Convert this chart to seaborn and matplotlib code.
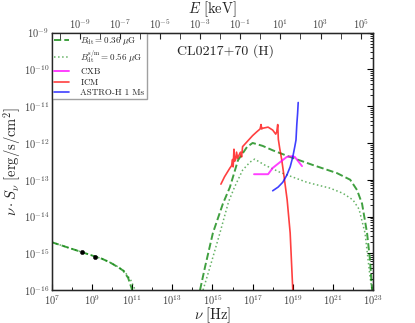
import numpy as np
import pandas as pd
import matplotlib
matplotlib.use("Agg")
import matplotlib.pyplot as plt
import seaborn as sns
from matplotlib.ticker import LogLocator, NullFormatter, FixedLocator
from matplotlib.lines import Line2D

sns.set_style("white")
plt.rcParams['font.family'] = ['cmr10', 'DejaVu Serif']
plt.rcParams['mathtext.fontset'] = 'cm'
plt.rcParams['axes.formatter.use_mathtext'] = True

# ---- data (log10 values) ----
# radio synchrotron, B_dt = 0.36 uG (dashed)
radio_dash_lognu = [7.0, 8.0, 8.5, 9.0, 9.5, 9.9, 10.3, 10.55, 10.8, 11.0]
radio_dash_logS = [-14.70, -14.88, -14.97, -15.06, -15.15, -15.25, -15.38, -15.47, -15.67, -16.0]
# radio synchrotron, B_dt^{s/m} = 0.56 uG (dotted)
radio_dot_lognu = [7.0, 8.0, 8.5, 9.0, 9.5, 9.9, 10.3, 10.6, 10.93, 11.15]
radio_dot_logS = [-14.70, -14.88, -14.97, -15.06, -15.15, -15.25, -15.37, -15.48, -15.73, -16.0]
# radio data points
pts_lognu = [8.5, 9.14]
pts_logS = [-14.96, -15.10]
# inverse-Compton, dashed
ic_dash_lognu = [14.38, 14.63, 15.02, 15.52, 15.87, 16.27, 16.72, 17.0, 17.5, 18.0, 18.86,
                 20.0, 21.2, 21.86, 22.2, 22.45, 22.7, 22.85, 22.95]
ic_dash_logS = [-16.0, -15.37, -14.45, -13.65, -13.2, -12.47, -12.11, -12.0, -12.08, -12.2, -12.38,
                -12.6, -12.82, -13.0, -13.28, -13.65, -14.45, -15.2, -16.0]
# inverse-Compton, dotted
ic_dot_lognu = [14.53, 14.88, 15.37, 15.8, 16.1, 16.5, 16.87, 17.1, 17.6, 18.37, 19.7,
                20.86, 21.5, 22.0, 22.3, 22.6, 22.85, 22.95]
ic_dot_logS = [-16.0, -15.37, -14.45, -13.6, -13.2, -12.74, -12.52, -12.44, -12.6, -12.8, -13.07,
               -13.23, -13.37, -13.55, -13.8, -14.45, -15.65, -16.0]
# ICM (red)
icm_lognu = [15.42, 15.6, 15.87, 15.95, 16.0, 16.03, 16.07, 16.1, 16.15, 16.2, 16.25, 16.35, 16.4,
             16.45, 16.5, 16.75, 17.0, 17.2, 17.37, 17.42, 17.45, 17.5, 17.77, 18.0, 18.15, 18.2,
             18.25, 18.28, 18.35, 18.45, 18.57, 18.72, 18.87, 19.0]
icm_logS = [-13.12, -12.92, -12.68, -12.62, -12.45, -12.65, -12.17, -12.5, -12.45, -12.25, -12.42,
            -12.3, -12.25, -12.38, -12.1, -11.95, -11.8, -11.7, -11.62, -11.5, -11.62, -11.6,
            -11.57, -11.65, -11.76, -11.7, -11.5, -11.9, -12.15, -12.46, -12.93, -13.55, -14.45, -16.0]
# CXB (magenta)
cxb_lognu = [17.07, 17.77, 18.0, 18.37, 18.7, 18.96, 19.1, 19.46]
cxb_logS = [-12.85, -12.85, -12.68, -12.52, -12.38, -12.36, -12.38, -12.63]
# ASTRO-H 1 Ms sensitivity (blue)
ah_lognu = [18.0, 18.27, 18.5, 18.7, 18.87, 19.0, 19.1, 19.16, 19.2, 19.24, 19.27]
ah_logS = [-13.3, -13.2, -13.07, -12.88, -12.65, -12.38, -12.1, -11.92, -11.5, -11.2, -10.9]

labels = [r'$B_{\rm dt}=0.36\ \mu{\rm G}$', r'$B_{\rm dt}^{\rm s/m}=0.56\ \mu{\rm G}$',
          r'$\rm CXB$', r'$\rm ICM$', 'ASTRO-H 1 Ms']
title_text = 'CL0217+70 (H)'

H_KEV = 4.135667e-18  # keV s

def df(lx, ly):
    return pd.DataFrame({'nu': np.power(10.0, lx), 'S': np.power(10.0, ly)})

fig = plt.figure(figsize=(4.15, 3.23), dpi=100)
ax = fig.add_axes([0.125, 0.102, 0.774, 0.797])

green = (0.0, 0.5, 0.0)
kw = dict(x='nu', y='S', ax=ax, sort=False, estimator=None, legend=False)
sns.lineplot(data=df(radio_dash_lognu, radio_dash_logS), color=green, linestyle='--', lw=1.4, alpha=0.75, **kw)
sns.lineplot(data=df(radio_dot_lognu, radio_dot_logS), color=green, linestyle=':', lw=1.1, alpha=0.6, **kw)
sns.lineplot(data=df(ic_dash_lognu, ic_dash_logS), color=green, linestyle='--', lw=1.4, alpha=0.75, **kw)
sns.lineplot(data=df(ic_dot_lognu, ic_dot_logS), color=green, linestyle=':', lw=1.1, alpha=0.6, **kw)
sns.lineplot(data=df(icm_lognu, icm_logS), color='red', lw=1.2, alpha=0.75, **kw)
sns.lineplot(data=df(cxb_lognu, cxb_logS), color='magenta', lw=1.4, alpha=0.75, **kw)
sns.lineplot(data=df(ah_lognu, ah_logS), color='blue', lw=1.2, alpha=0.75, **kw)
sns.scatterplot(data=df(pts_lognu, pts_logS), x='nu', y='S', ax=ax, color='black', s=10,
                edgecolor='black', legend=False, zorder=5)

ax.set_xscale('log')
ax.set_yscale('log')
ax.set_xlim(1e7, 1e23)
ax.set_ylim(1e-16, 1e-9)
ax.xaxis.set_major_locator(FixedLocator([10.0**k for k in range(7, 24, 2)]))
ax.xaxis.set_minor_locator(FixedLocator([10.0**k for k in range(8, 23, 2)]))
ax.xaxis.set_minor_formatter(NullFormatter())
ax.yaxis.set_major_locator(LogLocator(base=10, numticks=20))
ax.yaxis.set_minor_locator(LogLocator(base=10, subs=np.arange(2, 10), numticks=20))
ax.yaxis.set_minor_formatter(NullFormatter())
ax.tick_params(which='both', direction='in', right=True, labelsize=7.5, colors='black',
               labelcolor='#444444', pad=2)
ax.tick_params(which='major', length=4)
ax.tick_params(which='minor', length=2)
for s in ax.spines.values():
    s.set_color('black')
    s.set_linewidth(1.0)
ax.set_xlabel(r'$\nu\ [{\rm Hz}]$', fontsize=10.5, labelpad=-1)
ax.set_ylabel(r'$\nu\cdot S_\nu\ [{\rm erg/s/cm^2}]$', fontsize=10.5, labelpad=0)

ax2 = ax.twiny()
ax2.set_xscale('log')
ax2.set_xlim(1e7 * H_KEV, 1e23 * H_KEV)
ax2.xaxis.set_major_locator(FixedLocator([10.0**k for k in range(-9, 6, 2)]))
ax2.xaxis.set_minor_locator(FixedLocator([10.0**k for k in range(-10, 7, 2)]))
ax2.xaxis.set_minor_formatter(NullFormatter())
ax2.tick_params(which='both', direction='in', labelsize=7.5, labelcolor='#444444', pad=1.5)
ax2.tick_params(which='major', length=4)
ax2.tick_params(which='minor', length=4)
ax2.set_xlabel(r'$E\ [{\rm keV}]$', fontsize=10.5, labelpad=3)

ax.text(0.54, 0.93, title_text, transform=ax.transAxes, ha='center', va='center', fontsize=10)

handles = [Line2D([], [], color=green, ls='--', lw=1.4, alpha=0.75),
           Line2D([], [], color=green, ls=':', lw=1.1, alpha=0.6),
           Line2D([], [], color='magenta', lw=1.4, alpha=0.75),
           Line2D([], [], color='red', lw=1.2, alpha=0.75),
           Line2D([], [], color='blue', lw=1.2, alpha=0.75)]
leg = ax.legend(handles, labels, loc='upper left', fontsize=6.5, frameon=True, fancybox=False,
                borderaxespad=0.0, handlelength=1.6, labelspacing=0.15, borderpad=0.25,
                handletextpad=1.3, edgecolor='#888888')
leg.get_frame().set_linewidth(1.0)

fig.savefig('out.png', dpi=100)
